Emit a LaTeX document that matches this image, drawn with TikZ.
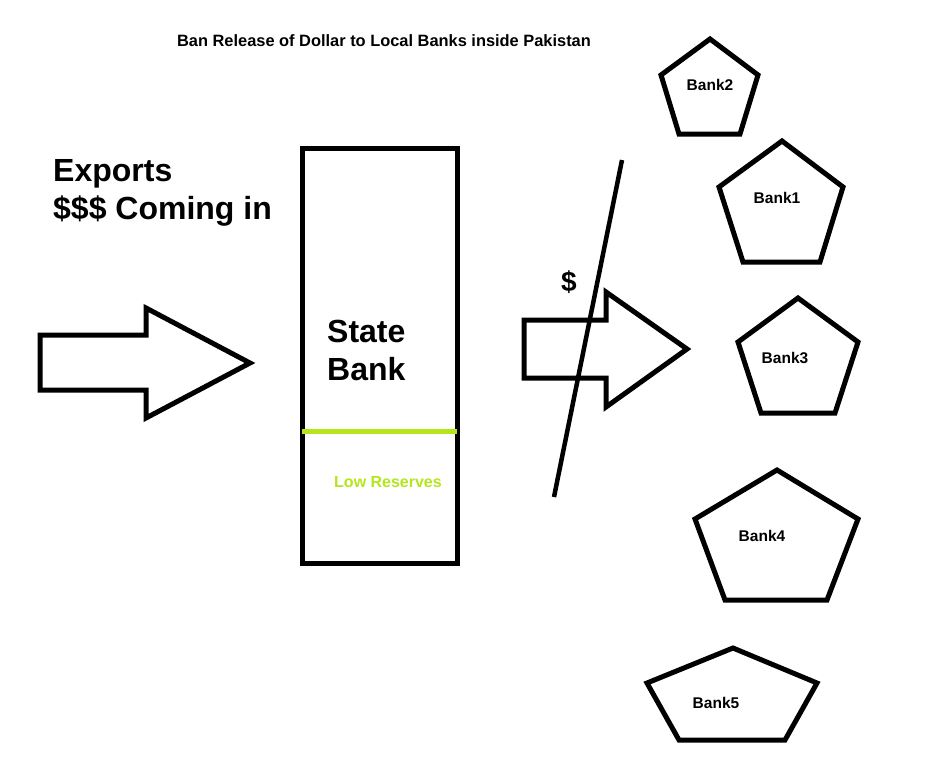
\documentclass[tikz,border=0pt]{standalone}
\usepackage{fontspec}
\setmainfont{Liberation Sans}
\definecolor{paintgreen}{RGB}{181,230,29}
\begin{document}
\begin{tikzpicture}[x=1pt,y=-1pt,
  shapeline/.style={draw=black,line width=5pt,line join=miter},
  bigtxt/.style={font=\fontsize{32}{38}\selectfont\bfseries,inner sep=0pt,anchor=base west},
  banktxt/.style={font=\fontsize{15.5}{18}\selectfont\bfseries,inner sep=0pt},
  titletxt/.style={font=\fontsize{16.4}{19}\selectfont\bfseries,inner sep=0pt}]
\useasboundingbox (0,0) rectangle (942,758);
\fill[white] (0,0) rectangle (942,758);
% title
\node[titletxt] (title) at (384,41) {Ban Release of Dollar to Local Banks inside Pakistan};
% exports text
\node[bigtxt] (exp1) at (53,181) {Exports};
\node[bigtxt] (exp2) at (53,219) {\$\$\$ Coming in};
% incoming arrow
\draw[shapeline] (40,335) -- (146,335) -- (146,308) -- (250,363) -- (146,418) -- (146,390) -- (40,390) -- cycle;
% state bank
\draw[shapeline] (302,148) rectangle (457,563);
\draw[draw=paintgreen,line width=5pt] (302,431) -- (457,431);
\node[bigtxt] (sb1) at (327,342) {State};
\node[bigtxt] (sb2) at (327,380) {Bank};
\node[banktxt,text=paintgreen,font=\fontsize{16}{19}\selectfont\bfseries] (low) at (388,482) {Low Reserves};
% outgoing arrow
\draw[shapeline] (524,320) -- (606,320) -- (606,292) -- (687,349) -- (606,407) -- (606,378) -- (524,378) -- cycle;
\coordinate (bantop) at (622,160);
\coordinate (banbot) at (554,497);
\draw[line width=4.5pt] (bantop) -- (banbot);
\node[font=\fontsize{28}{32}\selectfont\bfseries,inner sep=0pt] (dollar) at (569,282) {\$};
% banks
\draw[shapeline] (710,39) -- (758,75) -- (740,134) -- (679,134) -- (661,75) -- cycle;
\node[banktxt] (bank2) at (710,85) {Bank2};
\draw[shapeline] (782,141) -- (843,187) -- (820,262) -- (743,262) -- (719,187) -- cycle;
\node[banktxt] (bank1) at (777,198) {Bank1};
\draw[shapeline] (798,298) -- (858,342) -- (835,413) -- (761,413) -- (738,342) -- cycle;
\node[banktxt] (bank3) at (785,358) {Bank3};
\draw[shapeline] (777,470) -- (858,519) -- (827,600) -- (725,600) -- (695,519) -- cycle;
\node[banktxt] (bank4) at (762,536) {Bank4};
\draw[shapeline] (733,648) -- (817,683) -- (785,740) -- (679,740) -- (647,683) -- cycle;
\node[banktxt] (bank5) at (716,703) {Bank5};
\end{tikzpicture}
\end{document}
